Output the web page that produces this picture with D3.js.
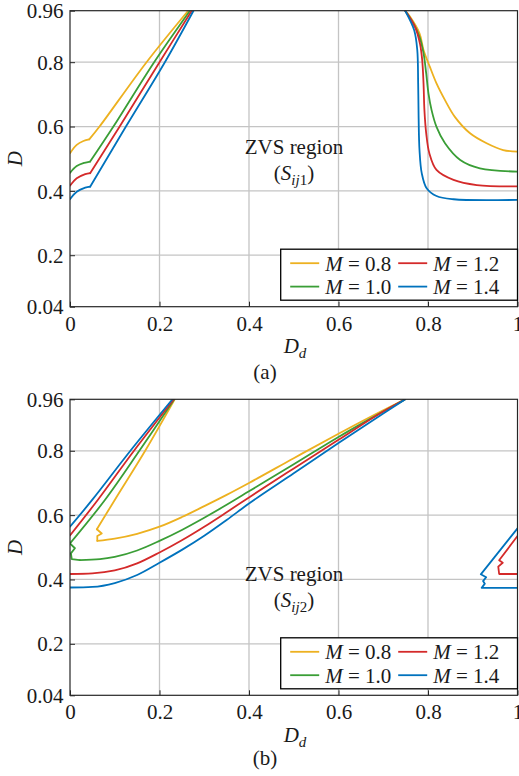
<!DOCTYPE html>
<html>
<head>
<meta charset="utf-8">
<script src="https://cdn.jsdelivr.net/npm/d3@7"></script>
<style>
  body { margin: 0; background: #fff; }
  text { font-family: "Liberation Serif", "Times New Roman", Times, "Nimbus Roman", "DejaVu Serif", serif; fill: #1a1a1a; }
</style>
</head>
<body>
<div id="chart"></div>
<script>
// series
var mValues = [0.8, 1.0, 1.2, 1.4];
var colors = ["#EDB120", "#3A9E36", "#D42A2A", "#0072BD"];

// ticks
var xTicks = [0, 0.2, 0.4, 0.6, 0.8, 1];
var xTickLabels = ["0", "0.2", "0.4", "0.6", "0.8", "1"];
var yTicks = [0.04, 0.2, 0.4, 0.6, 0.8, 0.96];
var yTickLabels = ["0.04", "0.2", "0.4", "0.6", "0.8", "0.96"];

// (a) boundaries, points are [Dd, D], one entry per M
var aLeftFoot = [
  [[0, 0.517], [0.015, 0.543], [0.030, 0.555], [0.043, 0.560]],
  [[0, 0.456], [0.015, 0.477], [0.032, 0.487], [0.045, 0.491]],
  [[0, 0.416], [0.015, 0.439], [0.034, 0.452], [0.045, 0.455]],
  [[0, 0.374], [0.015, 0.397], [0.034, 0.410], [0.045, 0.413]]
];
var aLeftRise = [
  [[0.043, 0.560], [0.066, 0.600], [0.171, 0.800], [0.264, 0.96]],
  [[0.045, 0.491], [0.097, 0.600], [0.188, 0.800], [0.268, 0.96]],
  [[0.045, 0.455], [0.111, 0.600], [0.200, 0.800], [0.272, 0.96]],
  [[0.045, 0.413], [0.125, 0.600], [0.212, 0.800], [0.276, 0.96]]
];
var aRight = [
  [[0.749, 0.96], [0.760, 0.941], [0.781, 0.890], [0.790, 0.838], [0.804, 0.786], [0.819, 0.734],
   [0.838, 0.682], [0.860, 0.630], [0.894, 0.579], [0.931, 0.548], [0.968, 0.527], [1, 0.522]],
  [[0.749, 0.96], [0.767, 0.921], [0.781, 0.879], [0.790, 0.828], [0.796, 0.765], [0.801, 0.703],
   [0.808, 0.651], [0.819, 0.599], [0.838, 0.548], [0.872, 0.496], [0.916, 0.470], [1, 0.460]],
  [[0.749, 0.96], [0.771, 0.910], [0.782, 0.858], [0.787, 0.807], [0.790, 0.734], [0.792, 0.651],
   [0.796, 0.579], [0.803, 0.517], [0.819, 0.465], [0.857, 0.434], [0.909, 0.418], [1, 0.414]],
  [[0.749, 0.96], [0.769, 0.900], [0.776, 0.838], [0.778, 0.734], [0.779, 0.630], [0.781, 0.527],
   [0.786, 0.455], [0.797, 0.408], [0.819, 0.384], [0.857, 0.374], [1, 0.372]]
];

// (b) boundaries
var bUpper = [
  [[0.234, 0.96], [0.168, 0.80], [0.100, 0.647], [0.060, 0.556]],
  [[0.233, 0.96], [0.155, 0.80], [0.078, 0.647], [0, 0.512]],
  [[0.232, 0.96], [0.143, 0.80], [0.062, 0.647], [0, 0.537]],
  [[0.229, 0.96], [0.135, 0.80], [0.050, 0.648], [0, 0.564]]
];
var bZig = [
  [[0.060, 0.556], [0.071, 0.543], [0.061, 0.535], [0.061, 0.520]],
  [[0, 0.512], [0.011, 0.497], [0.002, 0.481], [0.004, 0.463], [0.022, 0.460]],
  [],
  []
];
var bLower = [
  [[0.061, 0.520], [0.10, 0.527], [0.15, 0.542], [0.2, 0.564], [0.25, 0.594], [0.3, 0.628],
   [0.35, 0.663], [0.4, 0.700], [0.5, 0.777], [0.6, 0.853], [0.7, 0.926], [0.749, 0.96]],
  [[0.022, 0.460], [0.067, 0.463], [0.10, 0.470], [0.15, 0.490], [0.2, 0.520], [0.25, 0.554],
   [0.3, 0.592], [0.35, 0.632], [0.4, 0.674], [0.5, 0.758], [0.6, 0.843], [0.7, 0.922], [0.749, 0.96]],
  [[0, 0.417], [0.05, 0.419], [0.10, 0.428], [0.15, 0.450], [0.2, 0.484], [0.25, 0.522],
   [0.3, 0.564], [0.35, 0.609], [0.4, 0.655], [0.5, 0.745], [0.6, 0.834], [0.7, 0.922], [0.749, 0.96]],
  [[0, 0.375], [0.05, 0.377], [0.10, 0.389], [0.15, 0.414], [0.2, 0.452], [0.25, 0.492],
   [0.3, 0.536], [0.35, 0.585], [0.4, 0.636], [0.5, 0.730], [0.6, 0.824], [0.7, 0.916], [0.749, 0.96]]
];
var bRight = [
  [],
  [],
  [[1, 0.535], [0.959, 0.460], [0.967, 0.452], [0.957, 0.440], [0.959, 0.417], [1, 0.417]],
  [[1, 0.559], [0.918, 0.416], [0.930, 0.407], [0.923, 0.395], [0.927, 0.387], [0.920, 0.374], [1, 0.374]]
];

var W = 519, H = 776;
var svg = d3.select("#chart").append("svg")
    .attr("width", W)
    .attr("height", H);

var x0 = 70, x1 = 517.5;

function drawPanel(opts) {
  var top = opts.top, bottom = opts.bottom;
  var x = d3.scaleLinear().domain([0, 1]).range([x0, x1]);
  var y = d3.scaleLinear().domain([0.04, 0.96]).range([bottom, top]);
  var g = svg.append("g");

  // grid
  g.selectAll(".gx").data(xTicks.slice(1, -1)).enter().append("line")
      .attr("x1", d => x(d)).attr("x2", d => x(d))
      .attr("y1", top).attr("y2", bottom)
      .attr("stroke", "#c4c4c4").attr("stroke-width", 1.3);
  g.selectAll(".gy").data(yTicks.slice(1, -1)).enter().append("line")
      .attr("x1", x0).attr("x2", x1)
      .attr("y1", d => y(d)).attr("y2", d => y(d))
      .attr("stroke", "#c4c4c4").attr("stroke-width", 1.3);

  // curves
  var clipId = "clip" + opts.name;
  g.append("clipPath").attr("id", clipId).append("rect")
      .attr("x", x0).attr("y", top).attr("width", x1 - x0).attr("height", bottom - top);
  var curves = {
    smooth: d3.line().x(d => x(d[0])).y(d => y(d[1])).curve(d3.curveCatmullRom.alpha(0.5)),
    mono: d3.line().x(d => x(d[0])).y(d => y(d[1])).curve(d3.curveMonotoneX),
    linear: d3.line().x(d => x(d[0])).y(d => y(d[1]))
  };
  var cg = g.append("g").attr("clip-path", "url(#" + clipId + ")");
  mValues.forEach(function (m, i) {
    opts.segments.forEach(function (s) {
      var pts = s.data[i];
      if (!pts.length) return;
      cg.append("path")
          .attr("d", curves[s.curve](pts))
          .attr("fill", "none")
          .attr("stroke", colors[i])
          .attr("stroke-width", 1.8)
          .attr("stroke-linejoin", "round")
          .attr("stroke-linecap", "round");
    });
  });

  // axes
  var xAxis = d3.axisBottom(x).tickValues(xTicks).tickSizeInner(-5).tickSizeOuter(0)
      .tickFormat((d, i) => xTickLabels[i]);
  var yAxis = d3.axisLeft(y).tickValues(yTicks).tickSizeInner(-5).tickSizeOuter(0)
      .tickFormat((d, i) => yTickLabels[i]);
  var gx = g.append("g").attr("transform", "translate(0," + bottom + ")").call(xAxis);
  var gy = g.append("g").attr("transform", "translate(" + x0 + ",0)").call(yAxis);
  [gx, gy].forEach(function (a) {
    a.attr("font-family", null);
    a.select(".domain").remove();
    a.selectAll(".tick line").attr("stroke", "#262626").attr("stroke-width", 1);
    a.selectAll(".tick text").attr("font-size", 21).attr("fill", "#1a1a1a");
  });
  gx.selectAll(".tick text").attr("y", 9).attr("dy", "0.71em");
  gy.selectAll(".tick text").attr("x", -6.5).attr("dy", "0.34em");

  // box
  g.append("rect")
      .attr("x", x0).attr("y", top).attr("width", x1 - x0).attr("height", bottom - top)
      .attr("fill", "none").attr("stroke", "#262626").attr("stroke-width", 1.2);

  // axis labels
  var xl = g.append("text").attr("x", 295).attr("y", bottom + 46.5)
      .attr("text-anchor", "middle").attr("font-size", 21);
  xl.append("tspan").attr("font-style", "italic").text("D");
  xl.append("tspan").attr("font-style", "italic").attr("font-size", 15).attr("dy", 5).text("d");

  g.append("text").attr("transform", "translate(22," + ((top + bottom) / 2) + ") rotate(-90)")
      .attr("text-anchor", "middle").attr("font-size", 21).attr("font-style", "italic").text("D");

  g.append("text").attr("x", 265).attr("y", opts.captionY)
      .attr("text-anchor", "middle").attr("font-size", 21).text(opts.caption);

  // region annotation
  g.append("text").attr("x", 294).attr("y", opts.regionY)
      .attr("text-anchor", "middle").attr("font-size", 21).text("ZVS region");
  var rt = g.append("text").attr("x", 294).attr("y", opts.regionY + 26)
      .attr("text-anchor", "middle").attr("font-size", 21);
  rt.append("tspan").text("(");
  rt.append("tspan").attr("font-style", "italic").text("S");
  rt.append("tspan").attr("font-style", "italic").attr("font-size", 15).attr("dy", 5).text("ij");
  rt.append("tspan").attr("font-size", 15).text(opts.subIndex);
  rt.append("tspan").attr("dy", -5).text(")");

  // legend
  var lgBottom = bottom - 6.5, lgTop = lgBottom - 51;
  var lgLeft = 280.7;
  var lg = g.append("g");
  lg.append("rect").attr("x", lgLeft).attr("y", lgTop).attr("width", x1 - lgLeft).attr("height", lgBottom - lgTop)
      .attr("fill", "#fff").attr("stroke", "#000").attr("stroke-width", 1.3);
  mValues.forEach(function (m, i) {
    var col = Math.floor(i / 2), row = i % 2;
    var lx = lgLeft + 9.5 + col * 108;
    var ly = lgTop + 14 + row * 23.4;
    lg.append("line").attr("x1", lx).attr("x2", lx + 29).attr("y1", ly).attr("y2", ly)
        .attr("stroke", colors[i]).attr("stroke-width", 1.8);
    var t = lg.append("text").attr("x", lx + 35).attr("y", ly + 7.5).attr("font-size", 21);
    t.append("tspan").attr("font-style", "italic").text("M");
    t.append("tspan").text(" = " + m.toFixed(1));
  });
}

drawPanel({
  name: "a", top: 10.7, bottom: 306.7, caption: "(a)", captionY: 379,
  regionY: 154, subIndex: "1",
  segments: [
    { data: aLeftFoot, curve: "smooth" },
    { data: aLeftRise, curve: "smooth" },
    { data: aRight, curve: "smooth" }
  ]
});

drawPanel({
  name: "b", top: 399.3, bottom: 695.3, caption: "(b)", captionY: 765,
  regionY: 580.5, subIndex: "2",
  segments: [
    { data: bUpper, curve: "smooth" },
    { data: bZig, curve: "linear" },
    { data: bLower, curve: "mono" },
    { data: bRight, curve: "linear" }
  ]
});
</script>
</body>
</html>
